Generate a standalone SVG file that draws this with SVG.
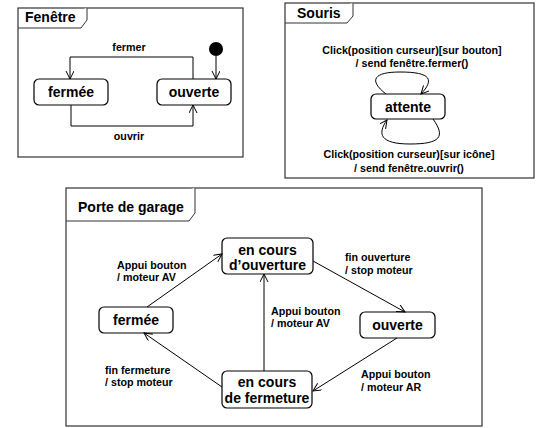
<svg xmlns="http://www.w3.org/2000/svg" width="537" height="428" viewBox="0 0 537 428">
<defs>
<marker id="arr" markerWidth="10" markerHeight="10" refX="8" refY="4" orient="auto" markerUnits="userSpaceOnUse">
<path d="M0,0 L8,4 L0,8" fill="none" stroke="#000" stroke-width="1"/>
</marker>
<style>
.frame{fill:#fff;stroke:#333;stroke-width:1.2}
.tab{fill:#fff;stroke:#333;stroke-width:1}
.st{fill:#fff;stroke:#000;stroke-width:1.2}
.title{font-family:"Liberation Sans",Arial,sans-serif;font-weight:bold;font-size:14px;fill:#000}
.sn{font-family:"Liberation Sans",Arial,sans-serif;font-weight:bold;font-size:14px;fill:#000;text-anchor:middle}
.lb{font-family:"Liberation Sans",Arial,sans-serif;font-weight:bold;font-size:10.7px;fill:#000}
.lbm{font-family:"Liberation Sans",Arial,sans-serif;font-weight:bold;font-size:10.7px;fill:#000;text-anchor:middle}
.e{fill:none;stroke:#000;stroke-width:1;marker-end:url(#arr)}
</style>
</defs>
<rect width="537" height="428" fill="#fff"/>

<!-- Frame Fenêtre -->
<g id="frame-fenetre">
<rect class="frame" x="18" y="8" width="225" height="149"/>
<path class="tab" d="M18,28 L81,28 L87,20 L87,8"/>
<text class="title" x="25" y="22">Fenêtre</text>
</g>
<g id="f-init"><circle cx="216" cy="49" r="7" fill="#000"/></g>
<g id="f-fermee"><rect class="st" x="34" y="79" width="74" height="26" rx="5"/><text class="sn" x="71" y="97">fermée</text></g>
<g id="f-ouverte"><rect class="st" x="157" y="79" width="74" height="26" rx="5"/><text class="sn" x="194" y="97">ouverte</text></g>

<!-- Frame Souris -->
<g id="frame-souris">
<rect class="frame" x="285" y="3" width="249" height="175"/>
<path class="tab" d="M285,23 L347,23 L353,16 L353,3"/>
<text class="title" x="297" y="18">Souris</text>
</g>
<g id="s-attente"><rect class="st" x="371" y="94" width="74" height="25" rx="5"/><text class="sn" x="408" y="112">attente</text></g>

<!-- Frame Porte de garage -->
<g id="frame-garage">
<rect class="frame" x="66" y="188" width="416" height="238"/>
<path class="tab" d="M66,221 L189,221 L195,213 L195,188"/>
<text class="title" x="78" y="212">Porte de garage</text>
</g>
<g id="g-ouverture"><rect class="st" x="222" y="238" width="91" height="36" rx="5"/><text class="sn" x="267.5" y="255">en cours</text><text class="sn" x="267.5" y="270">d’ouverture</text></g>
<g id="g-fermee"><rect class="st" x="99" y="307" width="74" height="26" rx="5"/><text class="sn" x="136" y="325">fermée</text></g>
<g id="g-ouverte"><rect class="st" x="360" y="312" width="75" height="26" rx="5"/><text class="sn" x="397.5" y="330">ouverte</text></g>
<g id="g-fermeture"><rect class="st" x="222" y="371" width="90" height="37" rx="5"/><text class="sn" x="267" y="387">en cours</text><text class="sn" x="267" y="403">de fermeture</text></g>

<g id="connectors">
<path class="e" d="M216,56 L216,79"/>
<path class="e" d="M193,79 L193,57 L70,57 L70,79"/>
<path class="e" d="M71,105 L71,126 L193,126 L193,105"/>
<path class="e" d="M386,94 C368,80 374,72 400,72 C432,72 434,80 421,94"/>
<path class="e" d="M433,119 C446,137 440,144 410,144 C380,144 377,134 387,120"/>
<path class="e" d="M147,307 L222,254"/>
<path class="e" d="M264,371 L264,274"/>
<path class="e" d="M313,261 L405,312"/>
<path class="e" d="M397,338 L313,391"/>
<path class="e" d="M222,387 L144,333"/>
</g>

<g id="labels">
<text class="lbm" x="129" y="51">fermer</text>
<text class="lbm" x="129" y="140">ouvrir</text>
<text class="lbm" x="412" y="54">Click(position curseur)[sur bouton]</text>
<text class="lbm" x="412" y="67">/ send fenêtre.fermer()</text>
<text class="lbm" x="409" y="158">Click(position curseur)[sur icône]</text>
<text class="lbm" x="409" y="172">/ send fenêtre.ouvrir()</text>
<text class="lb" x="117" y="269">Appui bouton</text>
<text class="lb" x="117" y="281">/ moteur AV</text>
<text class="lb" x="345" y="261">fin ouverture</text>
<text class="lb" x="345" y="274">/ stop moteur</text>
<text class="lb" x="271" y="315">Appui bouton</text>
<text class="lb" x="271" y="327">/ moteur AV</text>
<text class="lb" x="105" y="374">fin fermeture</text>
<text class="lb" x="105" y="386">/ stop moteur</text>
<text class="lb" x="361" y="378">Appui bouton</text>
<text class="lb" x="361" y="391">/ moteur AR</text>
</g>
</svg>
